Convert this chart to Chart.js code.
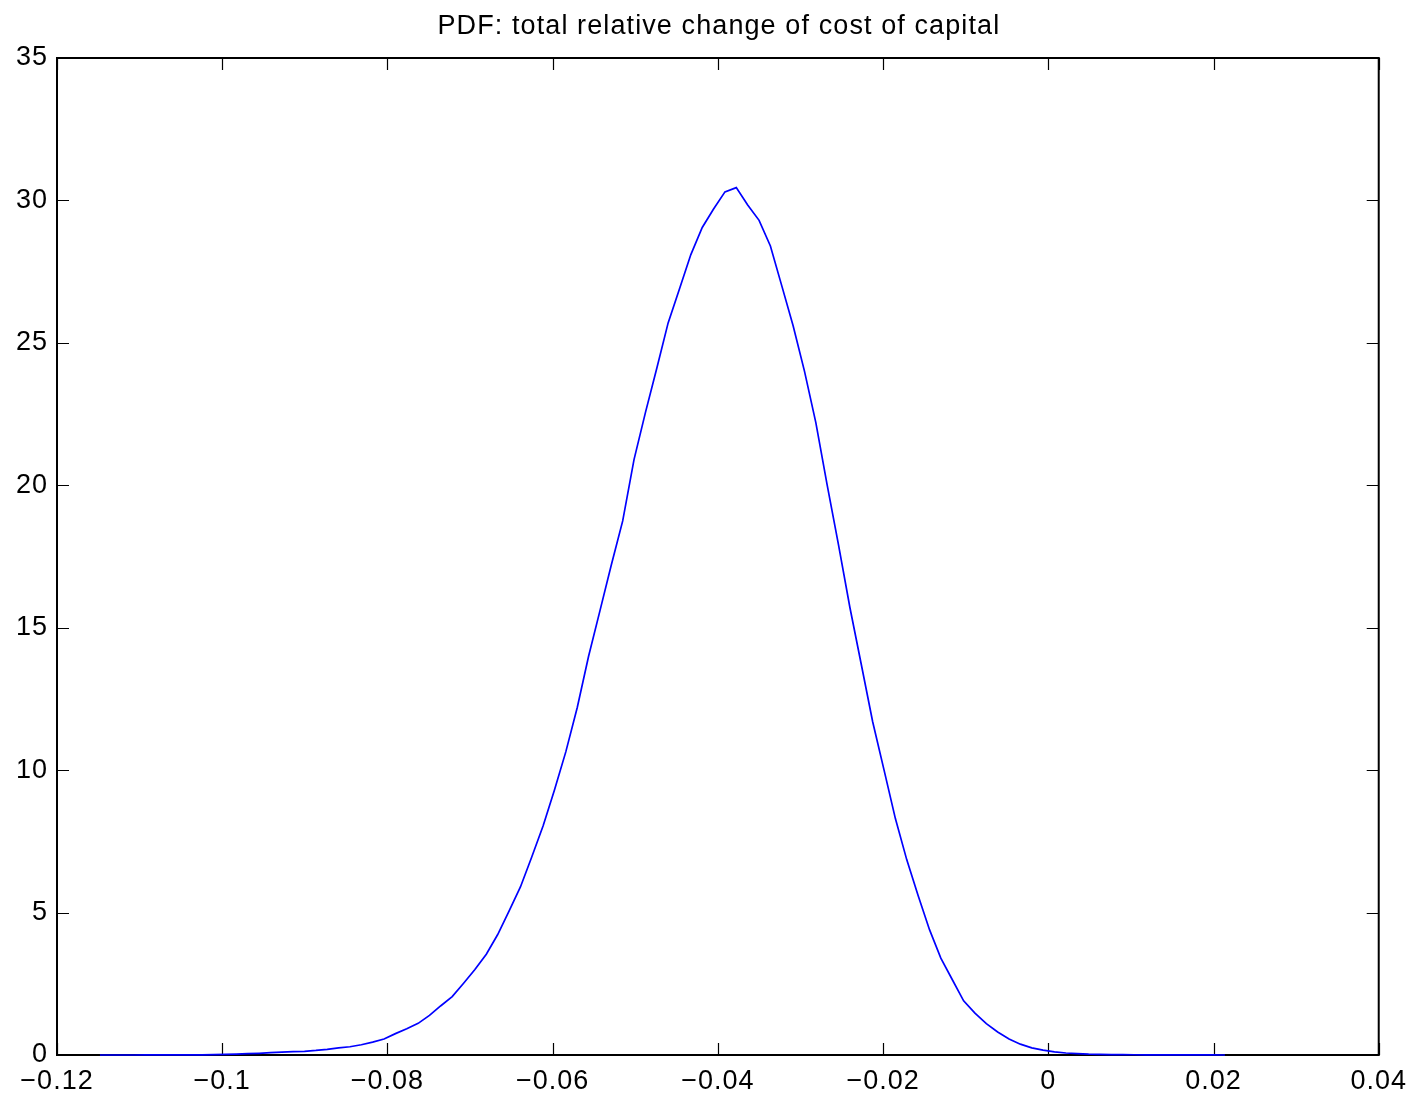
<!DOCTYPE html>
<html>
<head>
<meta charset="utf-8">
<script src="https://cdn.jsdelivr.net/npm/chart.js@4/dist/chart.umd.min.js"></script>
<style>
  html, body { margin: 0; padding: 0; background: #ffffff; }
  #wrap { width: 1415px; height: 1098px; }
</style>
</head>
<body>
<div id="wrap"><canvas id="c" width="1415" height="1098"></canvas></div>
<script>
const chartTitle = "PDF: total relative change of cost of capital";

const xValues = [
  -0.11480, -0.11342, -0.11205, -0.11067, -0.10930, -0.10792, -0.10655, -0.10517, -0.10379, -0.10242,
  -0.10104, -0.09967, -0.09829, -0.09692, -0.09554, -0.09417, -0.09279, -0.09141, -0.09004, -0.08866,
  -0.08729, -0.08591, -0.08454, -0.08316, -0.08179, -0.08041, -0.07903, -0.07766, -0.07628, -0.07491,
  -0.07353, -0.07216, -0.07078, -0.06941, -0.06803, -0.06665, -0.06528, -0.06390, -0.06253, -0.06115,
  -0.05978, -0.05840, -0.05702, -0.05565, -0.05427, -0.05290, -0.05152, -0.05015, -0.04877, -0.04740,
  -0.04602, -0.04464, -0.04327, -0.04189, -0.04052, -0.03914, -0.03777, -0.03639, -0.03501, -0.03364,
  -0.03226, -0.03089, -0.02951, -0.02814, -0.02676, -0.02539, -0.02401, -0.02263, -0.02126, -0.01988,
  -0.01851, -0.01713, -0.01576, -0.01438, -0.01301, -0.01163, -0.01025, -0.00888, -0.00750, -0.00613,
  -0.00475, -0.00338, -0.00200, -0.00063, 0.00075, 0.00213, 0.00350, 0.00488, 0.00625, 0.00763,
  0.00900, 0.01038, 0.01175, 0.01313, 0.01451, 0.01588, 0.01726, 0.01863, 0.02001, 0.02138
];

const pdfValues = [
  0.000, 0.000, 0.000, 0.000, 0.001, 0.001, 0.002, 0.003, 0.005, 0.007,
  0.010, 0.020, 0.030, 0.045, 0.060, 0.080, 0.100, 0.115, 0.130, 0.160,
  0.200, 0.250, 0.290, 0.360, 0.450, 0.560, 0.750, 0.920, 1.110, 1.390,
  1.730, 2.050, 2.520, 3.000, 3.540, 4.230, 5.050, 5.900, 6.950, 8.050,
  9.300, 10.650, 12.200, 14.000, 15.600, 17.200, 18.750, 20.900, 22.550, 24.100,
  25.700, 26.900, 28.100, 29.050, 29.700, 30.300, 30.450, 29.840, 29.300, 28.400,
  27.000, 25.600, 24.000, 22.200, 20.000, 17.900, 15.700, 13.700, 11.700, 10.000,
  8.300, 6.850, 5.600, 4.400, 3.400, 2.650, 1.900, 1.470, 1.100, 0.810,
  0.560, 0.380, 0.250, 0.170, 0.110, 0.070, 0.050, 0.030, 0.020, 0.015,
  0.010, 0.008, 0.006, 0.005, 0.004, 0.003, 0.002, 0.001, 0.001, 0.000
];

const xTickValues = [-0.12, -0.1, -0.08, -0.06, -0.04, -0.02, 0, 0.02, 0.04];
const xTickLabels = ["\u22120.12", "\u22120.1", "\u22120.08", "\u22120.06", "\u22120.04", "\u22120.02", "0", "0.02", "0.04"];
const yTickValues = [0, 5, 10, 15, 20, 25, 30, 35];
const yTickLabels = ["0", "5", "10", "15", "20", "25", "30", "35"];

const points = xValues.map((x, i) => ({ x: x, y: pdfValues[i] }));
const FONT = "'Liberation Sans', Arial, Helvetica, sans-serif";

function labelFor(values, labels, v) {
  for (let i = 0; i < values.length; i++) {
    if (Math.abs(values[i] - v) < 1e-9) return labels[i];
  }
  return "";
}

const frameAndTicks = {
  id: 'frameAndTicks',
  beforeDraw(chart) {
    chart.ctx.letterSpacing = '1px';
  },
  beforeDatasetsDraw(chart) {
    const ctx = chart.ctx;
    const a = chart.chartArea;
    const xs = chart.scales.x, ys = chart.scales.y;
    ctx.save();
    ctx.strokeStyle = '#000000';
    ctx.lineWidth = 1.2;
    const tl = 12;
    ctx.beginPath();
    xTickValues.forEach(v => {
      const px = Math.round(xs.getPixelForValue(v)) + 0.5;
      ctx.moveTo(px, a.bottom); ctx.lineTo(px, a.bottom - tl);
      ctx.moveTo(px, a.top); ctx.lineTo(px, a.top + tl);
    });
    yTickValues.forEach(v => {
      const py = Math.round(ys.getPixelForValue(v)) + 0.5;
      ctx.moveTo(a.left, py); ctx.lineTo(a.left + tl, py);
      ctx.moveTo(a.right, py); ctx.lineTo(a.right - tl, py);
    });
    ctx.stroke();
    ctx.lineWidth = 2;
    ctx.strokeRect(a.left, a.top, a.right - a.left, a.bottom - a.top);
    ctx.restore();
  },
  afterDraw(chart) {
    const ctx = chart.ctx;
    const a = chart.chartArea;
    ctx.save();
    ctx.fillStyle = '#000000';
    ctx.font = "27px " + FONT;
    ctx.letterSpacing = '1.1px';
    ctx.textAlign = 'center';
    ctx.textBaseline = 'alphabetic';
    ctx.fillText(chartTitle, (a.left + a.right) / 2 + 1, 34);
    ctx.restore();
  }
};

new Chart(document.getElementById('c'), {
  type: 'scatter',
  data: {
    datasets: [{
      data: points,
      showLine: true,
      borderColor: '#0000ff',
      borderWidth: 1.7,
      pointRadius: 0,
      pointHoverRadius: 0,
      tension: 0,
      fill: false,
      clip: 4
    }]
  },
  options: {
    responsive: false,
    animation: false,
    events: [],
    layout: { padding: { top: 58, right: 35, left: 0, bottom: 0 } },
    plugins: { legend: { display: false }, tooltip: { enabled: false }, title: { display: false } },
    scales: {
      x: {
        type: 'linear',
        min: -0.12, max: 0.04,
        afterBuildTicks(scale) { scale.ticks = xTickValues.map(v => ({ value: v })); },
        afterFit(scale) { scale.height = 43; },
        grid: { display: false, drawTicks: false },
        border: { display: false },
        ticks: {
          color: '#000000',
          font: { family: FONT, size: 27 },
          padding: 10,
          maxRotation: 0,
          autoSkip: false,
          callback: (v) => labelFor(xTickValues, xTickLabels, v)
        }
      },
      y: {
        type: 'linear',
        min: 0, max: 35,
        afterBuildTicks(scale) { scale.ticks = yTickValues.map(v => ({ value: v })); },
        afterFit(scale) { scale.width = 57; },
        grid: { display: false, drawTicks: false },
        border: { display: false },
        ticks: {
          color: '#000000',
          font: { family: FONT, size: 27 },
          padding: 9,
          autoSkip: false,
          callback: (v) => labelFor(yTickValues, yTickLabels, v)
        }
      }
    }
  },
  plugins: [frameAndTicks]
});
</script>
</body>
</html>
